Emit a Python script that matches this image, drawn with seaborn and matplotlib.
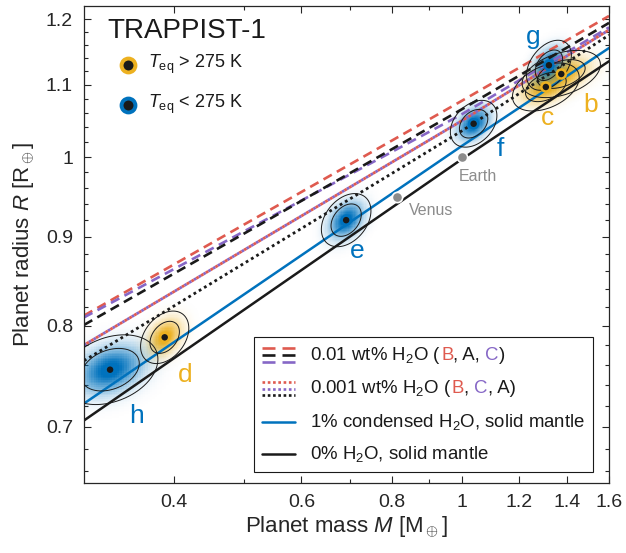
import numpy as np
import matplotlib
matplotlib.use("Agg")
import matplotlib.pyplot as plt
import seaborn as sns
from matplotlib.colors import LinearSegmentedColormap, to_rgb
from matplotlib.lines import Line2D
from matplotlib.offsetbox import AnchoredOffsetbox, DrawingArea, HPacker, VPacker, TextArea
from matplotlib.ticker import FixedLocator, FuncFormatter, NullFormatter

# -----------------------------
# Data
# -----------------------------
planet_names = ["b", "c", "d", "e", "f", "g", "h"]
planet_mass = [1.374, 1.308, 0.388, 0.692, 1.039, 1.321, 0.326]
planet_mass_err = [0.069, 0.056, 0.012, 0.022, 0.031, 0.038, 0.020]
planet_radius = [1.116, 1.097, 0.788, 0.920, 1.045, 1.129, 0.755]
planet_radius_err = [0.014, 0.014, 0.011, 0.013, 0.013, 0.015, 0.014]
planet_corr = [0.4, 0.4, 0.35, 0.35, 0.35, 0.4, 0.3]
planet_hot = [True, True, True, False, False, False, False]

body_names = ["Earth", "Venus"]
body_mass = [1.0, 0.815]
body_radius = [1.0, 0.949]

# mass-radius model curves
curve_mass = [0.3, 1.0, 1.6]
r_01_B = [0.811, 1.077, 1.205]
r_01_A = [0.801, 1.065, 1.194]
r_01_C = [0.809, 1.058, 1.187]
r_001_BC = [0.780, 1.049, 1.183]
r_001_A = [0.764, 1.035, 1.175]
r_cond = [0.722, 1.0146, 1.155]
r_dry = [0.706, 0.997, 1.135]

x_ticks = [0.4, 0.6, 0.8, 1, 1.2, 1.4, 1.6]
x_minor = [0.5, 0.7, 0.9]
y_ticks = [0.7, 0.8, 0.9, 1, 1.1, 1.2]
y_minor = [0.66, 0.68, 0.72, 0.74, 0.76, 0.78, 0.82, 0.84, 0.86, 0.88,
           0.92, 0.94, 0.96, 0.98, 1.02, 1.04, 1.06, 1.08, 1.12, 1.14,
           1.16, 1.18]

BLUE = "#0072BD"
ORANGE = "#EDB120"
RED = "#DF5A4F"
PURPLE = "#8667C6"
GRAY = "#8C8C8C"
TXT = "#262626"

sns.set_theme(style="ticks")
plt.rcParams["font.family"] = ["Liberation Sans", "DejaVu Sans"]
plt.rcParams["mathtext.fontset"] = "custom"
plt.rcParams["mathtext.rm"] = "Liberation Sans"
plt.rcParams["mathtext.it"] = "Liberation Sans:italic"
plt.rcParams["mathtext.bf"] = "Liberation Sans:bold"

fig = plt.figure(figsize=(6.26, 5.53), dpi=100)
ax = fig.add_axes([0.1342, 0.1266, 0.8387, 0.8626])
ax.set_xscale("log")
ax.set_yscale("log")


def draw_posterior(ax, m, dm, r, dr, rho, color):
    u0, v0 = np.log(m), np.log(r)
    su, sv = dm / m, dr / r
    u = np.linspace(u0 - 3.6 * su, u0 + 3.6 * su, 60)
    v = np.linspace(v0 - 3.6 * sv, v0 + 3.6 * sv, 60)
    U, V = np.meshgrid(u, v)
    a = (U - u0) / su
    b = (V - v0) / sv
    d2 = (a * a - 2 * rho * a * b + b * b) / (1 - rho ** 2)
    rgb = to_rgb(color)
    cmap = LinearSegmentedColormap.from_list("blob", [(*rgb, 0.0), (*rgb, 1.0)])
    ax.pcolormesh(np.exp(U), np.exp(V), np.clip(1.1 * np.exp(-d2 / 2.4), 0, 1),
                  cmap=cmap, vmin=0, vmax=1, shading="auto", zorder=1,
                  rasterized=True)
    ax.contour(np.exp(U), np.exp(V), d2, levels=[2.30, 6.18], colors="k",
               linewidths=0.7, zorder=3)


for i in range(len(planet_names)):
    draw_posterior(ax, planet_mass[i], planet_mass_err[i], planet_radius[i],
                   planet_radius_err[i], planet_corr[i],
                   ORANGE if planet_hot[i] else BLUE)

# model curves
dash = (0, (3.6, 2.2))
sns.lineplot(x=curve_mass, y=r_01_B, ax=ax, color=RED, lw=1.9, linestyle=dash, zorder=2)
sns.lineplot(x=curve_mass, y=r_01_C, ax=ax, color=PURPLE, lw=1.9, linestyle=dash, zorder=2)
sns.lineplot(x=curve_mass, y=r_01_A, ax=ax, color="k", lw=1.9, linestyle=dash, zorder=2)
sns.lineplot(x=curve_mass, y=r_001_BC, ax=ax, color=PURPLE, lw=2.0, linestyle=(0, (1, 1)), zorder=2)
sns.lineplot(x=curve_mass, y=r_001_BC, ax=ax, color=RED, lw=2.0, linestyle=(1, (1, 1)), zorder=2)
sns.lineplot(x=curve_mass, y=r_001_A, ax=ax, color="k", lw=2.0, linestyle=(0, (1, 1.2)), zorder=2)
sns.lineplot(x=curve_mass, y=r_cond, ax=ax, color=BLUE, lw=1.8, zorder=2)
sns.lineplot(x=curve_mass, y=r_dry, ax=ax, color="k", lw=1.8, zorder=2)

# planet centres
ring = [ORANGE if h else BLUE for h in planet_hot]
sns.scatterplot(x=planet_mass, y=planet_radius, ax=ax, color="k", edgecolor=ring,
                s=42, linewidth=1.8, legend=False, zorder=5)

label_offsets = {"b": (21, -22), "c": (1.5, -22), "d": (14.5, -27), "e": (8, -22),
                 "f": (19, -18), "g": (-11, 20), "h": (19, -33)}
for name, m, r, hot in zip(planet_names, planet_mass, planet_radius, planet_hot):
    ax.annotate(name, (m, r), xytext=label_offsets[name], textcoords="offset points",
                ha="center", va="center", fontsize=19,
                color=ORANGE if hot else BLUE, zorder=6)

# Earth / Venus
sns.scatterplot(x=body_mass, y=body_radius, ax=ax, color=GRAY, edgecolor="white",
                s=55, linewidth=1.2, legend=False, zorder=5)
body_offsets = {"Earth": (12, -14), "Venus": (24, -10)}
for name, m, r in zip(body_names, body_mass, body_radius):
    ax.annotate(name, (m, r), xytext=body_offsets[name], textcoords="offset points",
                ha="center", va="center", fontsize=11.5, color=GRAY, zorder=6)

# axes
ax.set_xlim(0.3, 1.6)
ax.set_ylim(0.65, 1.221)
fmt = FuncFormatter(lambda v, p: f"{v:g}")
ax.xaxis.set_major_locator(FixedLocator(x_ticks))
ax.xaxis.set_minor_locator(FixedLocator(x_minor))
ax.xaxis.set_major_formatter(fmt)
ax.xaxis.set_minor_formatter(NullFormatter())
ax.yaxis.set_major_locator(FixedLocator(y_ticks))
ax.yaxis.set_minor_locator(FixedLocator(y_minor))
ax.yaxis.set_major_formatter(fmt)
ax.yaxis.set_minor_formatter(NullFormatter())
ax.tick_params(which="both", direction="in", top=True, right=True,
               color=TXT, labelcolor=TXT, labelsize=14, width=0.8)
ax.tick_params(which="major", length=5, pad=8)
ax.tick_params(which="minor", length=3)
for sp in ax.spines.values():
    sp.set_color(TXT)
    sp.set_linewidth(0.9)
ax.set_xlabel(r"Planet mass $M$ [M$_\oplus$]", fontsize=16, color=TXT, labelpad=2)
ax.set_ylabel(r"Planet radius $R$ [R$_\oplus$]", fontsize=16, color=TXT, labelpad=6)

# top-left legend
ax.text(0.0438, 0.933, "TRAPPIST-1", transform=ax.transAxes, fontsize=20,
        va="baseline", ha="left", color="k")
for yy, col, lab in [(0.876, ORANGE, r"$T_{\rm eq}$ > 275 K"),
                     (0.7925, BLUE, r"$T_{\rm eq}$ < 275 K")]:
    ax.plot([0.0838], [yy], transform=ax.transAxes, marker="o", ms=10,
            mfc="k", mec=col, mew=2.8, zorder=7, clip_on=False)
    ax.text(0.122, yy - 0.006, lab, transform=ax.transAxes, fontsize=13,
            va="baseline", ha="left", color="k")

# bottom legend
FS = 13.4


def handle(kind):
    da = DrawingArea(24, 14, 0, 0)
    if kind == "dash":
        for yy, c in [(12, RED), (7, "k"), (2, PURPLE)]:
            for x0, x1 in [(0, 9.5), (14, 24)]:
                da.add_artist(Line2D([x0, x1], [yy, yy], color=c, lw=1.9,
                                     solid_capstyle="butt"))
    elif kind == "dot":
        for yy, c in [(11.5, RED), (7, PURPLE), (2.5, "k")]:
            da.add_artist(Line2D([0, 24], [yy, yy], color=c, lw=1.9,
                                 linestyle=(0, (1, 1))))
    else:
        da.add_artist(Line2D([0, 24], [7, 7], color=kind, lw=1.8))
    return da


def txt(parts):
    return HPacker(children=[TextArea(s, textprops=dict(color=c, fontsize=FS))
                             for s, c in parts], sep=0, pad=0, align="baseline")


rows = [
    (handle("dash"), txt([("0.01 wt% H$_2$O (", "k"), ("B", RED), (", A, ", "k"),
                          ("C", PURPLE), (")", "k")])),
    (handle("dot"), txt([("0.001 wt% H$_2$O (", "k"), ("B", RED), (", ", "k"),
                         ("C", PURPLE), (", A)", "k")])),
    (handle(BLUE), txt([("1% condensed H$_2$O, solid mantle", "k")])),
    (handle("k"), txt([("0% H$_2$O, solid mantle", "k")])),
]
vbox = VPacker(children=[HPacker(children=[h, t], sep=10.5, pad=0, align="center")
                         for h, t in rows], sep=9, pad=0, align="left")
abox = AnchoredOffsetbox(loc="lower right", child=vbox, pad=0.42, borderpad=0,
                         frameon=True, bbox_to_anchor=(0.9695, 0.023),
                         bbox_transform=ax.transAxes, prop=dict(size=FS))
abox.patch.set_boxstyle("square", pad=0)
abox.patch.set_edgecolor("k")
abox.patch.set_linewidth(0.8)
abox.zorder = 8
ax.add_artist(abox)

plt.savefig("out.png", dpi=100)
